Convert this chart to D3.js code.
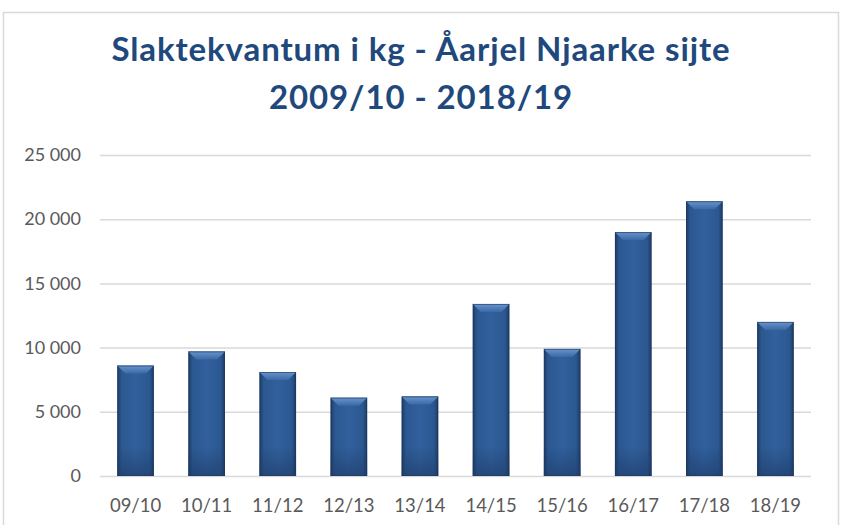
<!DOCTYPE html>
<html>
<head>
<meta charset="utf-8">
<script src="https://cdn.jsdelivr.net/npm/d3@7"></script>
<style>
  body { margin: 0; background: #fff; }
  svg { display: block; }
</style>
</head>
<body>
<div id="chart"></div>
<script>
// season labels and slaughter volume (kg)
var seasons = ["09/10", "10/11", "11/12", "12/13", "13/14", "14/15", "15/16", "16/17", "17/18", "18/19"];
var kilos = [8600, 9700, 8100, 6100, 6200, 13400, 9900, 19000, 21400, 12000];
var yTicks = [0, 5000, 10000, 15000, 20000, 25000];
var titleLines = ["Slaktekvantum i kg - Åarjel Njaarke sijte", "2009/10 - 2018/19"];

var W = 845, H = 525;
var m = { left: 100, right: 34, top: 155, bottom: 49 };

var svg = d3.select("#chart").append("svg")
    .attr("width", W)
    .attr("height", H);

var defs = svg.append("defs");

// side shading of the bars
var side = defs.append("linearGradient").attr("id", "side")
    .attr("x1", "0").attr("x2", "1").attr("y1", "0").attr("y2", "0");
side.append("stop").attr("offset", "0").attr("stop-color", "#1d3b66");
side.append("stop").attr("offset", "0.12").attr("stop-color", "#2c5891");
side.append("stop").attr("offset", "0.5").attr("stop-color", "#31609d");
side.append("stop").attr("offset", "0.88").attr("stop-color", "#2c5891");
side.append("stop").attr("offset", "1").attr("stop-color", "#1d3b66");

// bevel on top
var bevel = defs.append("linearGradient").attr("id", "bevel")
    .attr("x1", "0").attr("x2", "0").attr("y1", "0").attr("y2", "1");
bevel.append("stop").attr("offset", "0").attr("stop-color", "#6a95cc");
bevel.append("stop").attr("offset", "1").attr("stop-color", "#3a69a6");

// darker at the foot
var foot = defs.append("linearGradient").attr("id", "foot")
    .attr("x1", "0").attr("x2", "0").attr("y1", "0").attr("y2", "1");
foot.append("stop").attr("offset", "0").attr("stop-color", "#1d3b66").attr("stop-opacity", 0);
foot.append("stop").attr("offset", "1").attr("stop-color", "#1d3b66").attr("stop-opacity", 0.6);

// chart border
svg.append("rect")
    .attr("x", 3.5).attr("y", 12.5)
    .attr("width", 835).attr("height", 530)
    .attr("fill", "none")
    .attr("stroke", "#d9d9d9")
    .attr("stroke-width", 1.5);

// title
svg.selectAll("text.title")
    .data(titleLines)
  .enter().append("text")
    .attr("class", "title")
    .attr("x", 421)
    .attr("y", function(d, i) { return 61 + i * 48; })
    .attr("text-anchor", "middle")
    .style("font-family", "Lato, 'Open Sans', sans-serif")
    .style("font-weight", "bold")
    .style("font-size", "33px")
    .style("letter-spacing", "0.9px")
    .style("fill", "#1f497d")
    .text(function(d) { return d; });

var x = d3.scaleBand()
    .domain(seasons)
    .range([m.left, W - m.right])
    .paddingInner(0.485)
    .paddingOuter(0.2425);

var y = d3.scaleLinear()
    .domain([0, 25000])
    .range([H - m.bottom, m.top]);

var fmt = function(d) { return d3.format(",")(d).replace(/,/g, " "); };

// gridlines + y labels
var yAxis = d3.axisLeft(y)
    .tickValues(yTicks)
    .tickSize(-(W - m.left - m.right))
    .tickPadding(19)
    .tickFormat(fmt);

var gy = svg.append("g")
    .attr("transform", "translate(" + m.left + ",0)")
    .call(yAxis);
gy.select(".domain").remove();
gy.selectAll("line").attr("stroke", "#d9d9d9").attr("stroke-width", 1.5);
gy.selectAll("text")
    .style("font-family", "Lato, 'Open Sans', sans-serif")
    .style("font-size", "18px")
    .style("fill", "#595959");

// x labels
var xAxis = d3.axisBottom(x).tickSize(0).tickPadding(23);
var gx = svg.append("g")
    .attr("transform", "translate(0," + (H - m.bottom) + ")")
    .call(xAxis);
gx.select(".domain").remove();
gx.selectAll("text")
    .style("font-family", "Lato, 'Open Sans', sans-serif")
    .style("font-size", "18.5px")
    .style("fill", "#595959");

// bars
var bw = x.bandwidth();
var bars = svg.selectAll("g.bar")
    .data(seasons)
  .enter().append("g")
    .attr("class", "bar")
    .attr("transform", function(d) { return "translate(" + x(d) + ",0)"; });

bars.append("rect")
    .attr("x", 0)
    .attr("y", function(d, i) { return y(kilos[i]); })
    .attr("width", bw)
    .attr("height", function(d, i) { return y(0) - y(kilos[i]); })
    .attr("fill", "url(#side)");

bars.append("rect")
    .attr("x", 0)
    .attr("y", function(d, i) { return y(0) - Math.min(30, y(0) - y(kilos[i])); })
    .attr("width", bw)
    .attr("height", function(d, i) { return Math.min(30, y(0) - y(kilos[i])); })
    .attr("fill", "url(#foot)");

var bev = 8;
bars.append("path")
    .attr("d", function(d, i) {
        var t = y(kilos[i]);
        return "M0," + t + "L" + bw + "," + t + "L" + (bw - bev) + "," + (t + bev) +
               "L" + bev + "," + (t + bev) + "Z";
    })
    .attr("fill", "url(#bevel)");

bars.append("rect")
    .attr("x", 0.5)
    .attr("y", function(d, i) { return y(kilos[i]) + 0.5; })
    .attr("width", bw - 1)
    .attr("height", function(d, i) { return y(0) - y(kilos[i]) - 1; })
    .attr("fill", "none")
    .attr("stroke", "#1a355c")
    .attr("stroke-opacity", 0.6);
</script>
</body>
</html>
